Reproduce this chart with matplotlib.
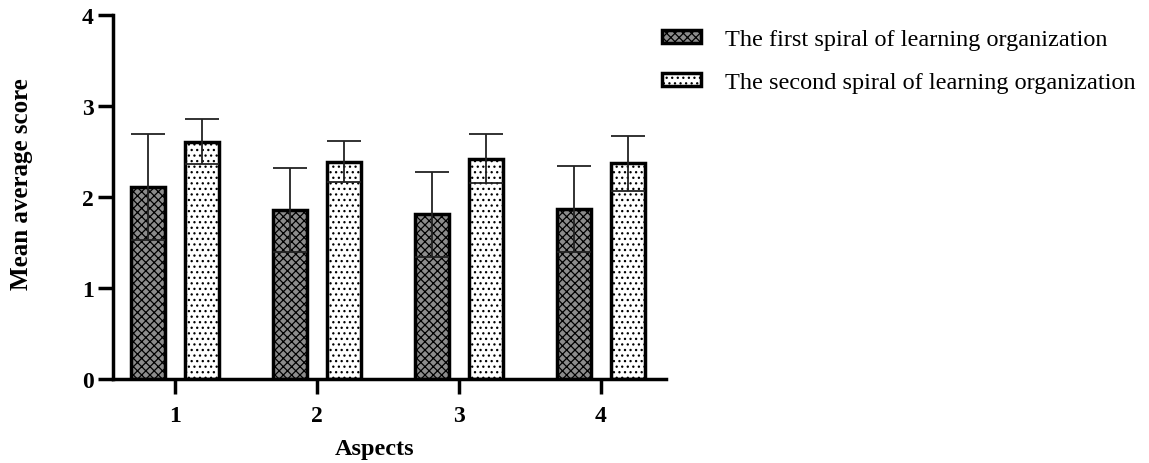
import numpy as np
import matplotlib
matplotlib.use("Agg")
import matplotlib.pyplot as plt

plt.rcParams["font.family"] = ["Liberation Serif", "DejaVu Serif"]
plt.rcParams["hatch.linewidth"] = 0.9

# values
aspects = ["1", "2", "3", "4"]
first_mean = [2.11, 1.86, 1.81, 1.87]
first_sd = [0.58, 0.46, 0.47, 0.47]
second_mean = [2.61, 2.39, 2.42, 2.37]
second_sd = [0.25, 0.23, 0.27, 0.30]
series_names = ["The first spiral of learning organization",
                "The second spiral of learning organization"]

fig = plt.figure(figsize=(11.49, 4.64), dpi=100)
ax = fig.add_axes([0.0983, 0.181, 0.4813, 0.7845])

x = np.arange(1, len(aspects) + 1)
off = 0.19
w = 0.24

b1 = ax.bar(x - off, first_mean, w, facecolor="#8c8c8c", edgecolor="black",
            hatch="xxxx", linewidth=2.5, label=series_names[0], zorder=2)
b2 = ax.bar(x + off, second_mean, w, facecolor="white", edgecolor="black",
            hatch="...", linewidth=2.5, label=series_names[1], zorder=2)
ax.errorbar(x - off, first_mean, yerr=first_sd, fmt="none", ecolor="#222222",
            elinewidth=1.3, capsize=12, capthick=1.3, zorder=3)
ax.errorbar(x + off, second_mean, yerr=second_sd, fmt="none", ecolor="#222222",
            elinewidth=1.3, capsize=12, capthick=1.3, zorder=3)

ax.set_xlim(0.563, 4.458)
ax.set_ylim(0, 4)
ax.set_yticks([0, 1, 2, 3, 4])
ax.set_xticks(x)
ax.set_xticklabels(aspects)
ax.spines["top"].set_visible(False)
ax.spines["right"].set_visible(False)
ax.spines["left"].set_linewidth(2.5)
ax.spines["bottom"].set_linewidth(2.5)
ax.tick_params(axis="y", length=11, width=2.5, labelsize=17, pad=3)
ax.tick_params(axis="x", length=11, width=2.5, labelsize=17, pad=8)
for lbl in ax.get_xticklabels() + ax.get_yticklabels():
    lbl.set_fontweight("bold")

ax.set_xlabel("Aspects", fontsize=17.5, fontweight="bold")
ax.xaxis.set_label_coords(0.474, -0.162)
ax.set_ylabel("Mean average score", fontsize=18, fontweight="bold")
ax.yaxis.set_label_coords(-0.144, 0.538)

fig.legend(handles=[b1, b2], labels=series_names, loc="upper left",
           bbox_to_anchor=(0.557, 0.982), frameon=False, fontsize=17.5,
           handlelength=1.6, handleheight=0.45, labelspacing=0.9,
           handletextpad=1.0)

fig.savefig("out.png", dpi=100)
